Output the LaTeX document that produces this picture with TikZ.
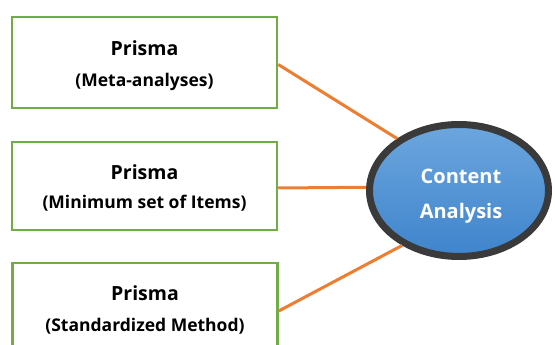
\documentclass[tikz,border=0pt]{standalone}
\usepackage{fontspec}
\setmainfont{Open Sans}
\definecolor{boxgreen}{HTML}{70AD47}
\definecolor{linkorange}{HTML}{ED7D31}
\definecolor{rimgray}{HTML}{3A3A3A}
\definecolor{bluetop}{HTML}{6CA6DE}
\definecolor{bluebot}{HTML}{3F84CC}
\tikzset{
  prismabox/.style={draw=boxgreen, line width=2.5pt, fill=white,
    minimum width=265pt, inner sep=0pt},
  titletext/.style={font=\bfseries\fontsize{19.5}{22}\selectfont, inner sep=0pt},
  subtext/.style={font=\bfseries\fontsize{17.5}{20}\selectfont, inner sep=0pt},
  link/.style={draw=linkorange, line width=3pt},
  hub/.style={ellipse, draw=rimgray, line width=7pt,
    top color=bluetop, bottom color=bluebot,
    minimum width=179pt, minimum height=132pt, inner sep=0pt},
  hubtext/.style={text=white, align=center, inner sep=0pt,
    font=\bfseries\fontsize{20}{35}\selectfont}
}
\usetikzlibrary{shapes.geometric}
\begin{document}
\begin{tikzpicture}[x=1pt, y=-1pt]
  \useasboundingbox (0,0) rectangle (555,345);
  \clip (0,0) rectangle (555,345);

  % source boxes
  \node[prismabox, minimum height=91pt] (b1) at (144.5,62.5) {};
  \node[prismabox, minimum height=88pt] (b2) at (144.5,186) {};
  \node[prismabox, minimum height=90pt] (b3) at (145,308) {};

  \node[titletext] (t1) at (144.5,48) {Prisma};
  \node[subtext]   (s1) at (144.5,81.5) {(Meta-analyses)};
  \node[titletext] (t2) at (144.5,172) {Prisma};
  \node[subtext]   (s2) at (144.5,203.5) {(Minimum set of Items)};
  \node[titletext] (t3) at (145,293) {Prisma};
  \node[subtext]   (s3) at (145,326.5) {(Standardized Method)};

  % central topic
  \node[hub] (ca) at (459,190.5) {};
  \node[hubtext] (cat) at (461,196) {Content\\Analysis};

  % connectors
  \coordinate (e1) at ([yshift=-2pt]b1.east);
  \coordinate (e2) at ([yshift=-2pt]b2.east);
  \coordinate (e3) at ([yshift=-3pt]b3.east);
  \draw[link] (e1) -- (ca.140);
  \draw[link] (e2) -- (ca.178);
  \draw[link] (e3) -- (ca.224);
\end{tikzpicture}
\end{document}
